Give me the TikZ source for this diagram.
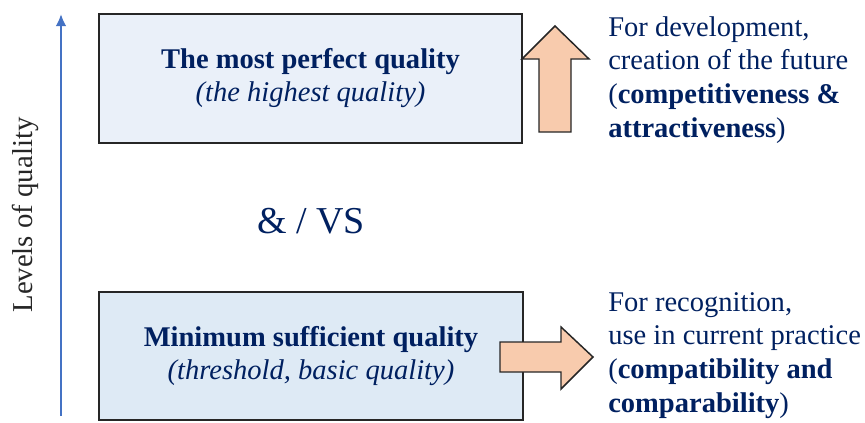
\documentclass[tikz,border=0pt]{standalone}
\usepackage{fontspec}
\setmainfont{Liberation Serif}
\usetikzlibrary{arrows.meta}
\definecolor{navy}{HTML}{002060}
\definecolor{topfill}{HTML}{EAF0F9}
\definecolor{botfill}{HTML}{DEEAF5}
\definecolor{arrowfill}{HTML}{F8CBAD}
\definecolor{edgegray}{HTML}{262626}
\definecolor{axisblue}{HTML}{4472C4}
\tikzset{
  qbox/.style={draw=edgegray, line width=1.5pt, text=navy, align=center, inner sep=0pt,
    font=\fontsize{21.4pt}{24.75pt}\selectfont},
  sidetext/.style={text=navy, align=left, inner sep=0pt, anchor=base west,
    font=\fontsize{21.4pt}{25.2pt}\selectfont},
  bigarrow/.style={draw=edgegray, line width=1.1pt, fill=arrowfill, line join=miter},
  axis/.style={draw=axisblue, line width=1.8pt, -{Latex[length=9pt,width=8pt]}}
}
\begin{document}
\begin{tikzpicture}[x=0.75pt,y=-0.75pt]
\useasboundingbox (0,0) rectangle (865,422);
\node[qbox, fill=topfill, minimum width=317.25pt, minimum height=96.75pt] (top) at (310.5,78.5)
  {\textbf{The most perfect quality}\\\textit{(the highest quality)}};
\node[qbox, fill=botfill, minimum width=318pt, minimum height=96pt] (bot) at (311,356)
  {\textbf{Minimum sufficient quality}\\\textit{(threshold, basic quality)}};
\node[text=navy, anchor=base, inner sep=0pt, font=\fontsize{28.5pt}{30pt}\selectfont] (vs) at (311,233) {\& / VS};
\node[rotate=90, anchor=base, inner sep=0pt, text=edgegray, font=\fontsize{21.6pt}{25pt}\selectfont] (lev) at (32,215) {Levels of quality};
\coordinate (ab) at (61,416);
\coordinate (at) at (61,14);
\draw[axis] (ab) -- (at);
\draw[bigarrow] (539,132) -- (539,59) -- (522,59) -- (555,26) -- (589,59) -- (571,59) -- (571,132) -- cycle;
\draw[bigarrow] (500,342) -- (561,342) -- (561,327) -- (593,357) -- (561,389) -- (561,372) -- (500,372) -- cycle;
\node[sidetext] (dev) at (608,137) {For development,\\creation of the future\\(\textbf{competitiveness \&}\\\textbf{attractiveness})};
\node[sidetext] (rec) at (608,412) {For recognition,\\use in current practice\\(\textbf{compatibility and}\\\textbf{comparability})};
\end{tikzpicture}
\end{document}
